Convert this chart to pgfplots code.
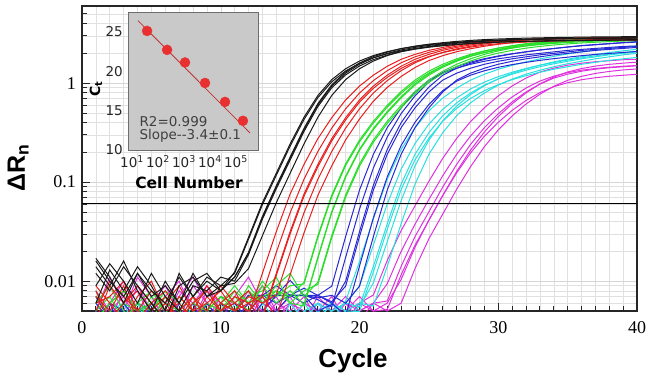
\documentclass[border=0pt]{standalone}
\usepackage{fontspec}
\setmainfont{Liberation Serif}
\newfontfamily\arial{Liberation Sans}
\newfontfamily\verd{DejaVu Sans}
\usepackage{pgfplots}
\pgfplotsset{compat=1.18}
\usepackage{pgfplotstable}

\definecolor{cBlk}{RGB}{25,25,25}
\definecolor{cRed}{RGB}{232,30,30}
\definecolor{cGrn}{RGB}{40,222,40}
\definecolor{cBlu}{RGB}{40,40,212}
\definecolor{cCya}{RGB}{40,224,224}
\definecolor{cMag}{RGB}{222,50,222}
\definecolor{insetgray}{RGB}{201,201,201}
\definecolor{insetframe}{RGB}{110,110,110}
\definecolor{fitred}{RGB}{190,50,50}
\definecolor{ptred}{RGB}{232,48,48}

\pgfplotstableread[row sep=\\]{
c k1 k2 k3 k4 k5 k6\\
1 0.012 0.017 0.009 0.014 0.006 0.016\\
2 0.008 0.011 0.015 0.009 0.013 0.010\\
3 0.014 0.006 0.010 0.016 0.008 0.007\\
4 0.009 0.012 0.006 0.008 0.014 0.012\\
5 0.006 0.008 0.012 0.005 0.009 0.007\\
6 0.004 0.006 0.007 0.010 0.005 0.009\\
7 0.009 0.011 0.005 0.006 0.012 0.006\\
8 0.011 0.007 0.009 0.012 0.007 0.010\\
9 0.007 0.010 0.008 0.007 0.011 0.012\\
10 0.008 0.008 0.011 0.009 0.009 0.008\\
11 0.0124 0.011 0.010 0.0095 0.0120 0.011\\
12 0.0277 0.0191 0.0185 0.0134 0.0265 0.0195\\
13 0.0619 0.0438 0.0422 0.0287 0.0590 0.0450\\
14 0.123 0.0891 0.0856 0.0619 0.117 0.0917\\
15 0.243 0.174 0.167 0.123 0.231 0.179\\
16 0.452 0.339 0.325 0.243 0.429 0.349\\
17 0.750 0.603 0.579 0.452 0.713 0.621\\
18 1.084 0.933 0.896 0.750 1.030 0.961\\
19 1.396 1.259 1.209 1.084 1.326 1.297\\
20 1.669 1.549 1.487 1.396 1.586 1.595\\
21 1.895 1.799 1.727 1.669 1.800 1.853\\
22 2.078 1.995 1.915 1.895 1.974 2.055\\
23 2.226 2.163 2.076 2.078 2.115 2.228\\
24 2.344 2.291 2.199 2.226 2.227 2.360\\
25 2.441 2.399 2.303 2.344 2.319 2.471\\
26 2.521 2.483 2.384 2.441 2.395 2.557\\
27 2.588 2.559 2.457 2.521 2.459 2.636\\
28 2.642 2.618 2.513 2.588 2.510 2.697\\
29 2.685 2.667 2.560 2.642 2.551 2.747\\
30 2.719 2.704 2.596 2.685 2.583 2.785\\
31 2.748 2.735 2.626 2.719 2.611 2.817\\
32 2.770 2.761 2.651 2.748 2.632 2.844\\
33 2.790 2.780 2.669 2.770 2.651 2.863\\
34 2.805 2.799 2.687 2.790 2.665 2.883\\
35 2.818 2.812 2.700 2.805 2.677 2.896\\
36 2.831 2.825 2.712 2.818 2.689 2.910\\
37 2.841 2.838 2.724 2.831 2.699 2.923\\
38 2.848 2.844 2.730 2.841 2.706 2.929\\
39 2.854 2.851 2.737 2.848 2.711 2.937\\
40 2.861 2.858 2.744 2.854 2.718 2.944\\
}\tblack

\pgfplotstableread[row sep=\\]{
c k1 k2 k3 k4 k5 k6\\
1 0.007 0.004 0.009 0.005 0.008 0.006\\
2 0.005 0.009 0.006 0.010 0.004 0.007\\
3 0.009 0.006 0.004 0.007 0.006 0.010\\
4 0.004 0.008 0.007 0.005 0.009 0.005\\
5 0.006 0.005 0.010 0.004 0.006 0.008\\
6 0.008 0.007 0.005 0.006 0.004 0.006\\
7 0.005 0.004 0.006 0.009 0.007 0.004\\
8 0.007 0.006 0.004 0.005 0.005 0.007\\
9 0.004 0.008 0.007 0.006 0.009 0.005\\
10 0.006 0.005 0.005 0.008 0.006 0.009\\
11 0.008 0.007 0.006 0.005 0.005 0.006\\
12 0.0045 0.006 0.008 0.006 0.007 0.005\\
13 0.0120 0.00733 0.00447 0.00425 0.006 0.007\\
14 0.0316 0.0195 0.0120 0.0114 0.00733 0.00434\\
15 0.0759 0.0490 0.0316 0.0300 0.0195 0.0116\\
16 0.151 0.107 0.0759 0.0721 0.0490 0.0307\\
17 0.275 0.204 0.151 0.143 0.107 0.0736\\
18 0.447 0.351 0.275 0.261 0.204 0.146\\
19 0.676 0.550 0.447 0.425 0.351 0.267\\
20 0.933 0.794 0.676 0.642 0.550 0.434\\
21 1.202 1.059 0.933 0.886 0.794 0.656\\
22 1.479 1.334 1.202 1.142 1.059 0.905\\
23 1.738 1.603 1.479 1.405 1.334 1.166\\
24 1.950 1.841 1.738 1.651 1.603 1.435\\
25 2.138 2.042 1.950 1.853 1.841 1.686\\
26 2.291 2.213 2.138 2.031 2.042 1.892\\
27 2.427 2.358 2.291 2.176 2.213 2.074\\
28 2.541 2.483 2.427 2.306 2.358 2.222\\
29 2.630 2.585 2.541 2.414 2.483 2.354\\
30 2.692 2.661 2.630 2.499 2.585 2.465\\
31 2.735 2.714 2.692 2.557 2.661 2.551\\
32 2.773 2.754 2.735 2.598 2.714 2.611\\
33 2.799 2.786 2.773 2.634 2.754 2.653\\
34 2.818 2.808 2.799 2.659 2.786 2.690\\
35 2.831 2.825 2.818 2.677 2.808 2.715\\
36 2.844 2.838 2.831 2.689 2.825 2.733\\
37 2.851 2.848 2.844 2.702 2.838 2.746\\
38 2.858 2.854 2.851 2.708 2.848 2.759\\
39 2.864 2.861 2.858 2.715 2.854 2.765\\
40 2.871 2.868 2.864 2.721 2.861 2.772\\
}\tred

\pgfplotstableread[row sep=\\]{
c k1 k2 k3 k4 k5 k6\\
1 0.005 0.008 0.004 0.006 0.007 0.004\\
2 0.007 0.004 0.006 0.009 0.005 0.006\\
3 0.004 0.006 0.008 0.005 0.004 0.008\\
4 0.006 0.005 0.005 0.004 0.006 0.005\\
5 0.008 0.004 0.006 0.007 0.005 0.004\\
6 0.005 0.007 0.004 0.005 0.008 0.006\\
7 0.004 0.005 0.007 0.004 0.006 0.005\\
8 0.006 0.004 0.005 0.006 0.004 0.007\\
9 0.005 0.006 0.004 0.008 0.005 0.004\\
10 0.007 0.005 0.006 0.005 0.007 0.006\\
11 0.005 0.008 0.005 0.007 0.006 0.009\\
12 0.009 0.006 0.007 0.005 0.008 0.006\\
13 0.006 0.010 0.008 0.009 0.006 0.007\\
14 0.008 0.007 0.011 0.006 0.009 0.008\\
15 0.007 0.009 0.006 0.008 0.012 0.006\\
16 0.00977 0.00938 0.00562 0.00579 0.007 0.008\\
17 0.0288 0.0276 0.0170 0.0175 0.00977 0.00928\\
18 0.0741 0.0711 0.0490 0.0505 0.0288 0.0274\\
19 0.153 0.147 0.112 0.115 0.0741 0.0704\\
20 0.266 0.255 0.209 0.215 0.153 0.145\\
21 0.412 0.396 0.339 0.349 0.266 0.253\\
22 0.596 0.572 0.501 0.516 0.412 0.391\\
23 0.822 0.789 0.708 0.729 0.596 0.566\\
24 1.072 1.029 0.955 0.984 0.822 0.781\\
25 1.318 1.265 1.202 1.238 1.072 1.018\\
26 1.549 1.487 1.445 1.488 1.318 1.252\\
27 1.758 1.688 1.660 1.710 1.549 1.472\\
28 1.950 1.872 1.862 1.918 1.758 1.670\\
29 2.113 2.028 2.042 2.103 1.950 1.853\\
30 2.252 2.162 2.188 2.254 2.113 2.007\\
31 2.371 2.276 2.317 2.387 2.252 2.139\\
32 2.469 2.370 2.427 2.500 2.371 2.252\\
33 2.550 2.448 2.512 2.587 2.469 2.346\\
34 2.618 2.513 2.588 2.666 2.550 2.423\\
35 2.673 2.566 2.649 2.728 2.618 2.487\\
36 2.719 2.610 2.698 2.779 2.673 2.539\\
37 2.761 2.651 2.742 2.824 2.719 2.583\\
38 2.796 2.684 2.780 2.863 2.761 2.623\\
39 2.825 2.712 2.812 2.896 2.796 2.656\\
40 2.848 2.734 2.838 2.923 2.825 2.684\\
}\tgreen

\pgfplotstableread[row sep=\\]{
c k1 k2 k3 k4 k5 k6\\
1 0.004 0.006 0.005 0.003 0.007 0.004\\
2 0.006 0.004 0.003 0.005 0.004 0.006\\
3 0.003 0.005 0.006 0.004 0.003 0.005\\
4 0.005 0.003 0.004 0.006 0.005 0.003\\
5 0.004 0.006 0.003 0.005 0.006 0.004\\
6 0.003 0.004 0.005 0.003 0.004 0.006\\
7 0.005 0.003 0.004 0.006 0.003 0.005\\
8 0.004 0.005 0.006 0.004 0.005 0.003\\
9 0.006 0.004 0.003 0.005 0.004 0.006\\
10 0.004 0.006 0.005 0.003 0.006 0.004\\
11 0.005 0.004 0.006 0.004 0.005 0.005\\
12 0.0072 0.005 0.004 0.006 0.0072 0.004\\
13 0.0072 0.0072 0.005 0.004 0.0072 0.006\\
14 0.0072 0.009 0.0072 0.005 0.006 0.0072\\
15 0.0102 0.0072 0.0072 0.0072 0.0072 0.0072\\
16 0.0072 0.0072 0.006 0.0072 0.0085 0.0072\\
17 0.0072 0.0065 0.0072 0.005 0.0072 0.0068\\
18 0.00891 0.0055 0.0062 0.0058 0.006 0.0072\\
19 0.0282 0.0174 0.00891 0.00998 0.0045 0.006\\
20 0.0832 0.0532 0.0282 0.0316 0.0142 0.00891\\
21 0.191 0.139 0.0832 0.0932 0.0436 0.0282\\
22 0.355 0.286 0.191 0.214 0.113 0.0832\\
23 0.562 0.492 0.355 0.398 0.234 0.191\\
24 0.813 0.744 0.562 0.629 0.402 0.355\\
25 1.072 1.026 0.813 0.911 0.608 0.562\\
26 1.259 1.277 1.072 1.201 0.840 0.813\\
27 1.413 1.467 1.259 1.410 1.045 1.072\\
28 1.549 1.627 1.413 1.583 1.201 1.259\\
29 1.660 1.763 1.549 1.735 1.331 1.413\\
30 1.758 1.879 1.660 1.859 1.443 1.549\\
31 1.841 1.979 1.758 1.969 1.537 1.660\\
32 1.928 2.072 1.841 2.062 1.619 1.758\\
33 1.995 2.157 1.928 2.159 1.696 1.841\\
34 2.065 2.233 1.995 2.234 1.765 1.928\\
35 2.138 2.311 2.065 2.313 1.827 1.995\\
36 2.188 2.379 2.138 2.395 1.891 2.065\\
37 2.239 2.434 2.188 2.451 1.947 2.138\\
38 2.291 2.492 2.239 2.508 1.992 2.188\\
39 2.344 2.549 2.291 2.566 2.039 2.239\\
40 2.371 2.594 2.344 2.625 2.085 2.291\\
}\tblue

\pgfplotstableread[row sep=\\]{
c k1 k2 k3 k4 k5 k6\\
1 0.005 0.003 0.006 0.004 0.003 0.005\\
2 0.003 0.005 0.004 0.006 0.004 0.003\\
3 0.004 0.006 0.003 0.005 0.006 0.004\\
4 0.006 0.003 0.005 0.003 0.004 0.006\\
5 0.003 0.004 0.004 0.006 0.003 0.004\\
6 0.005 0.005 0.003 0.004 0.005 0.003\\
7 0.004 0.003 0.006 0.003 0.004 0.005\\
8 0.003 0.006 0.004 0.005 0.003 0.004\\
9 0.005 0.004 0.003 0.004 0.006 0.003\\
10 0.004 0.003 0.005 0.003 0.004 0.005\\
11 0.003 0.005 0.004 0.006 0.003 0.004\\
12 0.005 0.004 0.003 0.004 0.005 0.003\\
13 0.004 0.003 0.005 0.003 0.004 0.006\\
14 0.003 0.005 0.004 0.005 0.003 0.004\\
15 0.006 0.004 0.003 0.004 0.005 0.003\\
16 0.004 0.006 0.005 0.003 0.004 0.005\\
17 0.005 0.004 0.006 0.005 0.006 0.004\\
18 0.004 0.005 0.004 0.006 0.005 0.006\\
19 0.00629 0.006 0.005 0.004 0.006 0.005\\
20 0.0158 0.00891 0.00495 0.00562 0.0055 0.006\\
21 0.0426 0.0232 0.0124 0.0141 0.00962 0.00562\\
22 0.107 0.0603 0.0334 0.0380 0.0251 0.0141\\
23 0.214 0.135 0.0840 0.0955 0.0651 0.0380\\
24 0.354 0.245 0.168 0.191 0.146 0.0955\\
25 0.524 0.385 0.278 0.316 0.265 0.191\\
26 0.707 0.543 0.412 0.468 0.416 0.316\\
27 0.889 0.708 0.555 0.631 0.586 0.468\\
28 1.070 0.871 0.699 0.794 0.765 0.631\\
29 1.228 1.023 0.840 0.955 0.941 0.794\\
30 1.378 1.161 0.964 1.096 1.105 0.955\\
31 1.511 1.288 1.082 1.230 1.254 1.096\\
32 1.637 1.405 1.187 1.349 1.391 1.230\\
33 1.755 1.514 1.287 1.462 1.517 1.349\\
34 1.859 1.613 1.379 1.567 1.635 1.462\\
35 1.969 1.708 1.461 1.660 1.742 1.567\\
36 2.062 1.799 1.547 1.758 1.845 1.660\\
37 2.159 1.884 1.620 1.841 1.943 1.758\\
38 2.234 1.961 1.697 1.928 2.035 1.841\\
39 2.313 2.030 1.756 1.995 2.118 1.928\\
40 2.367 2.089 1.817 2.065 2.192 1.995\\
}\tcyan

\pgfplotstableread[row sep=\\]{
c k1 k2 k3 k4 k5 k6\\
1 0.006 0.004 0.008 0.005 0.003 0.007\\
2 0.009 0.006 0.005 0.011 0.006 0.004\\
3 0.005 0.010 0.007 0.006 0.004 0.008\\
4 0.011 0.005 0.004 0.008 0.009 0.005\\
5 0.007 0.008 0.006 0.004 0.005 0.006\\
6 0.004 0.006 0.009 0.007 0.004 0.005\\
7 0.008 0.004 0.005 0.010 0.007 0.004\\
8 0.006 0.009 0.004 0.005 0.011 0.006\\
9 0.005 0.006 0.008 0.004 0.006 0.009\\
10 0.004 0.005 0.006 0.007 0.004 0.005\\
11 0.007 0.004 0.005 0.006 0.005 0.004\\
12 0.011 0.006 0.004 0.005 0.008 0.006\\
13 0.006 0.009 0.007 0.004 0.005 0.005\\
14 0.005 0.005 0.005 0.006 0.004 0.007\\
15 0.004 0.007 0.006 0.005 0.006 0.004\\
16 0.006 0.004 0.004 0.007 0.005 0.006\\
17 0.005 0.006 0.007 0.004 0.004 0.005\\
18 0.007 0.005 0.005 0.006 0.006 0.004\\
19 0.004 0.007 0.006 0.005 0.005 0.006\\
20 0.006 0.005 0.004 0.006 0.007 0.005\\
21 0.00726 0.006 0.006 0.005 0.005 0.006\\
22 0.0162 0.00944 0.00631 0.00517 0.006 0.005\\
23 0.0324 0.0200 0.0141 0.0116 0.0104 0.00599\\
24 0.0576 0.0376 0.0282 0.0231 0.0220 0.0134\\
25 0.102 0.0668 0.0501 0.0411 0.0414 0.0268\\
26 0.174 0.116 0.0891 0.0731 0.0735 0.0476\\
27 0.276 0.191 0.151 0.124 0.128 0.0846\\
28 0.408 0.292 0.240 0.197 0.210 0.143\\
29 0.564 0.417 0.355 0.291 0.321 0.228\\
30 0.743 0.562 0.490 0.402 0.459 0.337\\
31 0.935 0.724 0.646 0.530 0.618 0.466\\
32 1.124 0.891 0.813 0.667 0.796 0.614\\
33 1.290 1.047 0.977 0.801 0.980 0.772\\
34 1.415 1.175 1.122 0.920 1.152 0.928\\
35 1.516 1.274 1.230 1.009 1.293 1.066\\
36 1.587 1.349 1.318 1.081 1.401 1.169\\
37 1.643 1.405 1.380 1.132 1.484 1.252\\
38 1.681 1.445 1.429 1.172 1.546 1.311\\
39 1.720 1.479 1.462 1.199 1.590 1.358\\
40 1.741 1.505 1.496 1.227 1.627 1.389\\
}\tmagenta

\begin{document}
\begin{tikzpicture}
\path[use as bounding box] (-82pt,-65pt) rectangle (568pt,311pt);
\begin{axis}[
  at={(0pt,0pt)}, anchor=south west,
  scale only axis, width=555pt, height=305pt,
  xmin=0, xmax=40,
  ymode=log, ymin=0.005, ymax=6,
  xtick={0,10,20,30,40}, xticklabels={0,10,20,30,40},
  minor x tick num=9,
  ytick={0.01,0.1,1}, yticklabels={0.01,0.1,1},
  minor ytick={0.006,0.007,0.008,0.009,0.02,0.03,0.04,0.05,0.06,0.07,0.08,0.09,0.2,0.3,0.4,0.5,0.6,0.7,0.8,0.9,2,3,4,5},
  tick pos=left, tick align=inside,
  major tick length=8pt, minor tick length=5pt,
  grid=both,
  major grid style={draw=black!16, line width=0.5pt},
  minor grid style={draw=black!12, line width=0.5pt},
  axis line style={draw=black!85, line width=1.2pt},
  tick style={draw=black!85, line width=0.8pt},
  ticklabel style={font=\fontsize{18}{18}\selectfont},
  yticklabel style={anchor=east, inner sep=0pt, xshift=-6pt},
  xticklabel style={anchor=north, inner sep=0pt, yshift=-10pt},
]
\pgfplotsinvokeforeach{k1,k2,k3,k4,k5,k6}{
  \addplot[cMag, line width=1pt] table[x=c, y=#1]{\tmagenta};
}
\pgfplotsinvokeforeach{k1,k2,k3,k4,k5,k6}{
  \addplot[cCya, line width=1pt] table[x=c, y=#1]{\tcyan};
}
\pgfplotsinvokeforeach{k1,k2,k3,k4,k5,k6}{
  \addplot[cBlu, line width=1pt] table[x=c, y=#1]{\tblue};
}
\pgfplotsinvokeforeach{k1,k2,k3,k4,k5,k6}{
  \addplot[cGrn, line width=1pt] table[x=c, y=#1]{\tgreen};
}
\pgfplotsinvokeforeach{k1,k2,k3,k4,k5,k6}{
  \addplot[cRed, line width=1pt] table[x=c, y=#1]{\tred};
}
\pgfplotsinvokeforeach{k1,k2,k3,k4,k5,k6}{
  \addplot[cBlk, line width=1pt] table[x=c, y=#1]{\tblack};
}
\addplot[black, line width=1.4pt] coordinates {(0,0.061) (40,0.061)};
\end{axis}

\begin{axis}[
  at={(46pt,161pt)}, anchor=south west,
  scale only axis, width=130pt, height=138pt,
  xmode=log, xmin=7, xmax=708000,
  ymin=10, ymax=27.5,
  xtick={10,100,1000,10000,100000},
  xticklabels={10\textsuperscript{1},10\textsuperscript{2},10\textsuperscript{3},10\textsuperscript{4},10\textsuperscript{5}},
  minor xtick={},
  ytick={10,15,20,25}, yticklabels={10,15,20,25},
  major tick length=0pt, minor tick length=0pt,
  axis background/.style={fill=insetgray},
  axis line style={draw=insetframe, line width=1pt},
  ticklabel style={font=\verd\fontsize{13.5}{13.5}\selectfont, text=black!85},
  yticklabel style={anchor=east, inner sep=0pt, xshift=-5pt},
  xticklabel style={anchor=north, inner sep=0pt, yshift=-5pt},
]
\addplot[fitred, line width=0.8pt] coordinates {(17,26.4) (346700,12.17)};
\addplot[only marks, mark=*, mark size=5pt, color=ptred] coordinates {
  (38,25.1) (224,22.7) (1096,21.1) (6457,18.5) (38019,16.1) (186209,13.7)
};
\end{axis}

\node[anchor=base west, text=black!75, font=\verd\fontsize{13.5}{13.5}\selectfont] at (54pt,185pt) {R2=0.999};
\node[anchor=base west, text=black!75, font=\verd\fontsize{13.5}{13.5}\selectfont] at (54pt,172pt) {Slope-{}-3.4±0.1};
\node[rotate=90, anchor=base] at (18pt,222pt) {\verd\bfseries\fontsize{14}{14}\selectfont C\textsubscript{t}};
\node[anchor=base] at (107pt,123pt) {\verd\bfseries\fontsize{15.5}{15.5}\selectfont Cell Number};
\node[rotate=90, anchor=base] at (-57pt,143pt) {\arial\bfseries\fontsize{25}{25}\selectfont ΔR\textsubscript{n}};
\node[anchor=base] at (271pt,-56pt) {\arial\bfseries\fontsize{26}{26}\selectfont Cycle};
\end{tikzpicture}
\end{document}
